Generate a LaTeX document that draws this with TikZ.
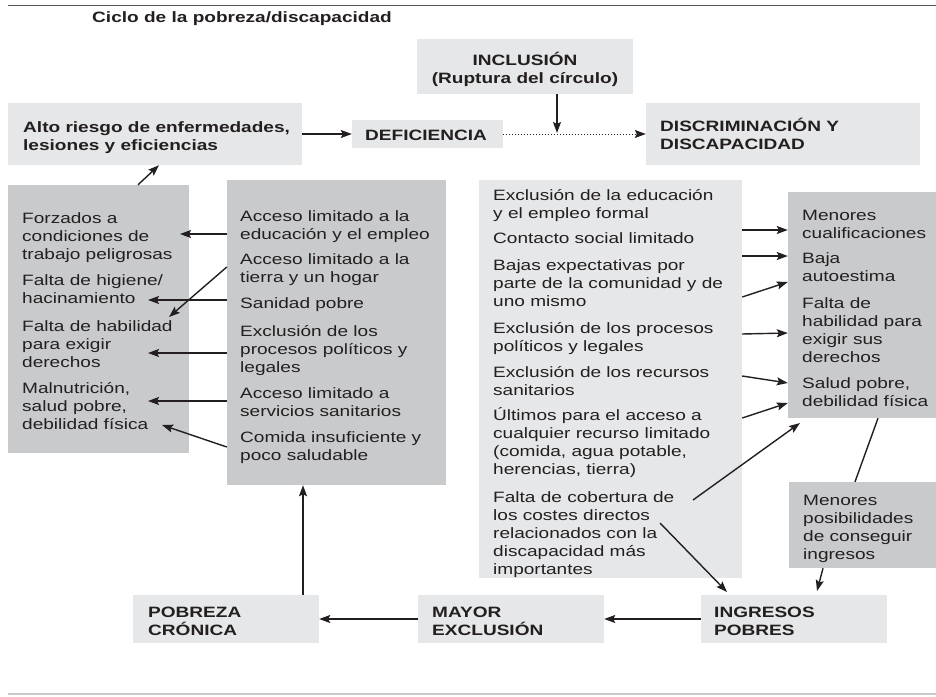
\documentclass[tikz,border=0pt]{standalone}
\usepackage{fontspec}
\setmainfont{Liberation Sans}[FakeStretch=1.27]
\usetikzlibrary{arrows.meta}
\definecolor{lightfill}{RGB}{230,231,232}
\definecolor{darkfill}{RGB}{201,202,204}
\definecolor{txt}{RGB}{35,31,32}
\definecolor{topline}{RGB}{85,85,85}
\definecolor{botline}{RGB}{200,200,200}
\begin{document}
\begin{tikzpicture}[x=1pt,y=-1pt,
  lbox/.style={fill=lightfill, draw=none, inner sep=0pt},
  dbox/.style={fill=darkfill, draw=none, inner sep=0pt},
  itm/.style={anchor=north west, inner sep=0pt, align=left, text=txt, font=\fontsize{15}{18}\selectfont},
  bitm/.style={anchor=north west, inner sep=0pt, align=left, text=txt, font=\bfseries\fontsize{15}{18.5}\selectfont},
  arr/.style={draw=txt, line width=1.4pt, -{Stealth[length=11pt,width=8pt,inset=2pt]}},
  ln/.style={draw=txt, line width=1.4pt}]
\useasboundingbox (0,0) rectangle (936,696);
\fill[white] (0,0) rectangle (936,696);
\draw[topline, line width=1.8pt] (8,5.5) -- (936,5.5);
\draw[botline, line width=1.5pt] (8,694) -- (936,694);
\node[anchor=north west, inner sep=0pt, text=txt, font=\bfseries\fontsize{15}{17}\selectfont] (title) at (92,8) {\rule{0pt}{14pt}Ciclo de la pobreza/discapacidad};

% boxes
\node[lbox, minimum width=216, minimum height=55] (incl) at (525,66.5) {};
\node[lbox, minimum width=294, minimum height=62] (alto) at (155,134) {};
\node[lbox, minimum width=151, minimum height=28] (def) at (427.5,134) {};
\node[lbox, minimum width=274, minimum height=62] (disc) at (783,134) {};
\node[dbox, minimum width=181, minimum height=268] (forz) at (98.5,319) {};
\node[dbox, minimum width=219, minimum height=305] (acc) at (336.5,332.5) {};
\node[lbox, minimum width=263, minimum height=398] (excl) at (610.5,379) {};
\node[dbox, minimum width=148, minimum height=226] (rbox) at (862,305) {};
\node[dbox, minimum width=147, minimum height=86] (rbox2) at (862.5,525) {};
\node[lbox, minimum width=186, minimum height=48] (pob) at (226,619) {};
\node[lbox, minimum width=186, minimum height=48] (may) at (511,619) {};
\node[lbox, minimum width=186, minimum height=48] (ing) at (794,619) {};

% bold texts
\node[bitm, anchor=north, align=center] (inclt) at (525,51) {\rule{0pt}{14pt}INCLUSIÓN\\(Ruptura del círculo)};
\node[bitm] (altot) at (23,118) {\rule{0pt}{14pt}Alto riesgo de enfermedades,\\lesiones y eficiencias};
\node[bitm] (deft) at (365,126) {\rule{0pt}{14pt}DEFICIENCIA};
\node[bitm] (disct) at (660,117) {\rule{0pt}{14pt}DISCRIMINACIÓN Y\\DISCAPACIDAD};
\node[bitm] (pobt) at (148,603) {\rule{0pt}{14pt}POBREZA\\CRÓNICA};
\node[bitm] (mayt) at (432,603) {\rule{0pt}{14pt}MAYOR\\EXCLUSIÓN};
\node[bitm] (ingt) at (714,603) {\rule{0pt}{14pt}INGRESOS\\POBRES};

% left box items
\node[itm] (f1) at (22,209) {\rule{0pt}{14pt}Forzados a\\condiciones de\\trabajo peligrosas};
\node[itm] (f2) at (22,271) {\rule{0pt}{14pt}Falta de higiene/\\hacinamiento};
\node[itm] (f3) at (22,317) {\rule{0pt}{14pt}Falta de habilidad\\para exigir\\derechos};
\node[itm] (f4) at (22,379) {\rule{0pt}{14pt}Malnutrición,\\salud pobre,\\debilidad física};

% acceso items
\node[itm] (a1) at (240,207) {\rule{0pt}{14pt}Acceso limitado a la\\educación y el empleo};
\node[itm] (a2) at (240,250) {\rule{0pt}{14pt}Acceso limitado a la\\tierra y un hogar};
\node[itm] (a3) at (240,294) {\rule{0pt}{14pt}Sanidad pobre};
\node[itm] (a4) at (240,322) {\rule{0pt}{14pt}Exclusión de los\\procesos políticos y\\legales};
\node[itm] (a5) at (240,384) {\rule{0pt}{14pt}Acceso limitado a\\servicios sanitarios};
\node[itm] (a6) at (240,428) {\rule{0pt}{14pt}Comida insuficiente y\\poco saludable};

% exclusion items
\node[itm] (e1) at (493,186) {\rule{0pt}{14pt}Exclusión de la educación\\y el empleo formal};
\node[itm] (e2) at (493,229) {\rule{0pt}{14pt}Contacto social limitado};
\node[itm] (e3) at (493,256) {\rule{0pt}{14pt}Bajas expectativas por\\parte de la comunidad y de\\uno mismo};
\node[itm] (e4) at (493,319) {\rule{0pt}{14pt}Exclusión de los procesos\\políticos y legales};
\node[itm] (e5) at (493,363) {\rule{0pt}{14pt}Exclusión de los recursos\\sanitarios};
\node[itm] (e6) at (493,406) {\rule{0pt}{14pt}Últimos para el acceso a\\cualquier recurso limitado\\(comida, agua potable,\\herencias, tierra)};
\node[itm] (e7) at (493,488) {\rule{0pt}{14pt}Falta de cobertura de\\los costes directos\\relacionados con la\\discapacidad más\\importantes};

% right items
\node[itm] (r1) at (802,206) {\rule{0pt}{14pt}Menores\\cualificaciones};
\node[itm] (r2) at (802,249) {\rule{0pt}{14pt}Baja\\autoestima};
\node[itm] (r3) at (802,294) {\rule{0pt}{14pt}Falta de\\habilidad para\\exigir sus\\derechos};
\node[itm] (r4) at (802,374) {\rule{0pt}{14pt}Salud pobre,\\debilidad física};
\node[itm] (m1) at (803,491) {\rule{0pt}{14pt}Menores\\posibilidades\\de conseguir\\ingresos};

% top connectors
\coordinate (m) at (557,133);
\draw[arr] (alto) -- (def);
\draw[arr, line width=1pt, dotted] (def) -- (disc);
\draw[arr] (incl.south -| m) -- (m);
\draw[arr] (forz.north -| 138,0) -- (alto.south -| 159,0);

% left connectors
\coordinate (t1) at (180,234);
\coordinate (t2) at (169,317);
\coordinate (t3) at (148,300);
\coordinate (t4) at (148,353);
\coordinate (t5) at (148,401);
\coordinate (t6) at (162,425);
\draw[arr] (acc.west |- t1) -- (t1);
\draw[arr] (acc.west |- 0,267) -- (t2);
\draw[arr] (acc.west |- t3) -- (t3);
\draw[arr] (acc.west |- t4) -- (t4);
\draw[arr] (acc.west |- t5) -- (t5);
\draw[arr] (acc.west |- 0,447) -- (t6);

% right connectors
\draw[arr] (excl.east |- 0,230) -- (rbox.west |- 0,230);
\draw[arr] (excl.east |- 0,256) -- (rbox.west |- 0,256);
\draw[arr] (excl.east |- 0,297) -- (rbox.west |- 0,282);
\draw[arr] (excl.east |- 0,334) -- (rbox.west |- 0,333);
\draw[arr] (excl.east |- 0,376) -- (rbox.west |- 0,383);
\draw[arr] (excl.east |- 0,418) -- (rbox.west |- 0,403);
\coordinate (s7) at (693,500);
\coordinate (t7) at (800,423);
\draw[arr] (s7) -- (t7);
\coordinate (s8) at (660,523);
\coordinate (t8) at (727,592);
\draw[arr] (s8) -- (t8);
\draw[ln] (rbox.south -| 878,0) -- (rbox2.north -| 855,0);
\coordinate (t10) at (817,591);
\draw[arr] (rbox2.south -| 823,0) -- (t10);

% bottom connectors
\draw[arr] (ing) -- (may);
\draw[arr] (may) -- (pob);
\draw[arr] (pob.north -| 303,0) -- (acc.south -| 303,0);
\end{tikzpicture}
\end{document}
